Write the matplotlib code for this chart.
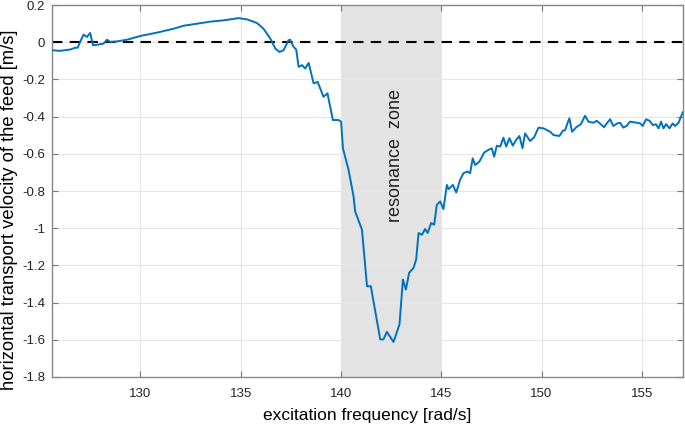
import matplotlib
matplotlib.use("Agg")
import matplotlib.pyplot as plt

plt.rcParams['font.family'] = ['Liberation Sans', 'DejaVu Sans']

freq = [125.63, 126.0, 126.5, 126.76, 126.88, 127.0, 127.17, 127.34, 127.5, 127.64,
        127.92, 128.17, 128.34, 128.5, 128.84, 129.34, 130.0, 130.83, 131.66, 132.16,
        132.82, 133.49, 134.15, 134.9, 135.32, 135.81, 136.14, 136.48, 136.73, 136.94,
        137.14, 137.39, 137.47, 137.64, 137.77, 137.89, 138.06, 138.22, 138.39, 138.64,
        138.84, 139.13, 139.33, 139.6, 139.88, 140.01, 140.1, 140.38, 140.63, 140.71,
        141.05, 141.3, 141.49, 141.96, 142.12, 142.29, 142.62, 142.92, 143.09, 143.24,
        143.4, 143.62, 143.75, 143.87, 144.04, 144.2, 144.32, 144.5, 144.65, 144.78,
        144.95, 145.11, 145.28, 145.36, 145.58, 145.75, 145.94, 146.11, 146.31, 146.44,
        146.57, 146.69, 146.9, 147.14, 147.35, 147.52, 147.64, 147.77, 147.94, 148.1,
        148.24, 148.4, 148.57, 148.73, 148.9, 149.05, 149.18, 149.43, 149.63, 149.85,
        150.1, 150.43, 150.6, 150.89, 151.06, 151.18, 151.29, 151.39, 151.52, 151.76,
        151.96, 152.17, 152.34, 152.59, 152.75, 152.95, 153.12, 153.25, 153.42, 153.58,
        153.78, 153.92, 154.08, 154.25, 154.41, 154.66, 154.91, 155.05, 155.21, 155.38,
        155.55, 155.71, 155.83, 155.96, 156.08, 156.21, 156.38, 156.54, 156.66, 156.83,
        157.04]
velocity = [-0.043, -0.046, -0.039, -0.029, -0.029, 0.002, 0.041, 0.029, 0.050, -0.016,
            -0.012, -0.007, 0.014, 0.002, 0.005, 0.014, 0.034, 0.052, 0.073, 0.089,
            0.100, 0.111, 0.118, 0.130, 0.123, 0.104, 0.073, 0.020, -0.034, -0.052,
            -0.043, 0.011, 0.014, -0.025, -0.039, -0.132, -0.123, -0.141, -0.111, -0.221,
            -0.213, -0.293, -0.275, -0.418, -0.418, -0.427, -0.570, -0.686, -0.829, -0.910,
            -1.008, -1.312, -1.312, -1.598, -1.598, -1.557, -1.612, -1.517, -1.276, -1.330,
            -1.240, -1.213, -1.169, -1.026, -1.035, -1.004, -1.026, -0.972, -0.981, -0.874,
            -0.856, -0.897, -0.767, -0.790, -0.767, -0.808, -0.740, -0.704, -0.695, -0.704,
            -0.624, -0.660, -0.642, -0.593, -0.579, -0.570, -0.615, -0.556, -0.561, -0.513,
            -0.561, -0.516, -0.556, -0.525, -0.504, -0.570, -0.490, -0.531, -0.511, -0.459,
            -0.463, -0.481, -0.499, -0.504, -0.476, -0.472, -0.436, -0.409, -0.481, -0.454,
            -0.441, -0.395, -0.427, -0.433, -0.422, -0.440, -0.457, -0.436, -0.414, -0.450,
            -0.436, -0.433, -0.459, -0.449, -0.427, -0.431, -0.436, -0.450, -0.414, -0.422,
            -0.445, -0.441, -0.463, -0.427, -0.463, -0.440, -0.463, -0.436, -0.450, -0.433,
            -0.377]

xticks = [130, 135, 140, 145, 150, 155]
yticks = [0.2, 0, -0.2, -0.4, -0.6, -0.8, -1, -1.2, -1.4, -1.6, -1.8]
ytick_labels = ['0.2', '0', '-0.2', '-0.4', '-0.6', '-0.8', '-1', '-1.2', '-1.4', '-1.6', '-1.8']
zone = [140, 145]

fig = plt.figure(figsize=(6.85, 4.25), dpi=100)
ax = fig.add_axes([0.076, 0.113, 0.921, 0.875])

ax.axvspan(zone[0], zone[1], color='#e3e3e3', zorder=0, lw=0)
ax.axhline(0, color='black', ls=(0, (5, 3.5)), lw=1.5, zorder=2)
ax.plot(freq, velocity, color='#0072BD', lw=1.4, zorder=3)

ax.set_xlim(125.6, 157.05)
ax.set_ylim(-1.8, 0.2)
ax.set_xticks(xticks)
ax.set_xticklabels([str(t) for t in xticks])
ax.set_yticks(yticks)
ax.set_yticklabels(ytick_labels)
ax.grid(True, color='#e6e6e6', lw=0.8, zorder=1)
ax.set_axisbelow(True)
ax.tick_params(direction='in', length=4, top=True, right=True, labelsize=9.5,
               color='#777777', labelcolor='#222222')
ax.tick_params(axis='y', pad=5)
ax.tick_params(axis='x', pad=8)
for s in ax.spines.values():
    s.set_color('#888888')
    s.set_linewidth(1.0)

ax.text(142.7, -0.61, 'resonance  zone', rotation=90, ha='center', va='center',
        fontsize=13, color='#222222')

ax.set_xlabel('excitation frequency [rad/s]', fontsize=12.5, labelpad=6)
ax.set_ylabel('horizontal transport velocity of the feed [m/s]', fontsize=13.2)
ax.yaxis.set_label_coords(-0.054, 0.45)

fig.savefig('out.png', dpi=100)
